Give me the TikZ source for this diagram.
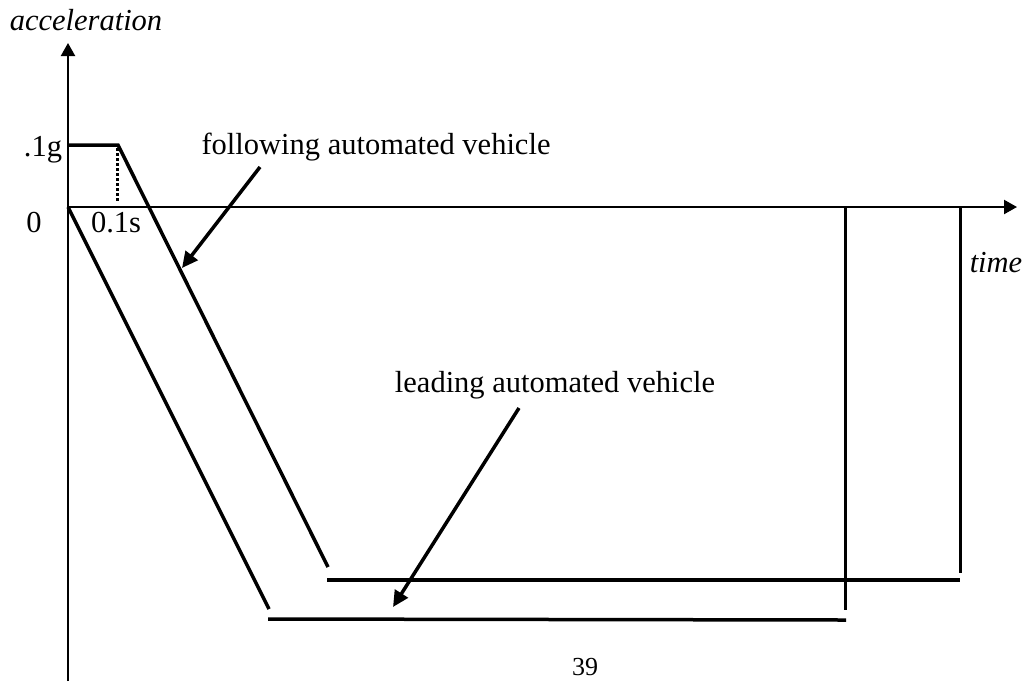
\documentclass[tikz,border=0pt]{standalone}
\usepackage{fontspec}
\setmainfont{Liberation Serif}
\usetikzlibrary{arrows.meta}
\begin{document}
\begin{tikzpicture}[x=1pt,y=-1pt,
  axis/.style={line width=2.2pt,-{Triangle[length=13pt,width=14pt]}},
  curve/.style={line width=3.5pt},
  endline/.style={line width=3pt},
  pointer/.style={line width=3.5pt,-{Triangle[length=16pt,width=15pt]}},
  lbl/.style={inner sep=0pt,anchor=base,font=\fontsize{30.5}{36}\selectfont},
  ilbl/.style={lbl,font=\fontsize{30.5}{36}\selectfont\itshape}]
\useasboundingbox (0,0) rectangle (1024,681);
% axes
\coordinate (O) at (68,207);
\coordinate (ybot) at (68,681);
\coordinate (ytop) at (68,43);
\coordinate (xend) at (1017,207);
\draw[axis] (ybot) -- (ytop);
\draw[axis,shorten <=-1pt] (O) -- (xend);
% following vehicle
\coordinate (f0) at (68,145);
\coordinate (f1) at (118,145);
\coordinate (f2) at (328,567);
\coordinate (fh0) at (327,580);
\coordinate (fh1) at (960,580);
\coordinate (fv0) at (960,207);
\coordinate (fv1) at (960,573);
\draw[curve] (f0) -- (f1) -- (f2);
\draw[curve] (fh0) -- (fh1);
\draw[endline] (fv0) -- (fv1);
\coordinate (d0) at (117,148);
\coordinate (d1) at (117,201);
\draw[line width=3pt,dash pattern=on 3pt off 2pt] (d0) -- (d1);
% leading vehicle
\coordinate (l2) at (269,609);
\coordinate (lh0) at (268,619);
\coordinate (lh1) at (846,620);
\coordinate (lv0) at (845,207);
\coordinate (lv1) at (845,610);
\draw[curve] (O) -- (l2);
\draw[curve] (lh0) -- (lh1);
\draw[endline] (lv0) -- (lv1);
% labels
\node[ilbl] (acc) at (86,30) {acceleration};
\node[ilbl] (time) at (996,272) {time};
\node[lbl] (g1) at (43,156) {.1g};
\node[lbl] (zero) at (34,232) {0};
\node[lbl] (t01) at (116,232) {0.1s};
\node[lbl] (fol) at (376,154) {following automated vehicle};
\node[lbl] (lea) at (555,392) {leading automated vehicle};
\node[inner sep=0pt,anchor=base,font=\fontsize{26}{30}\selectfont] (pg) at (585,675) {39};
% pointers
\coordinate (fa0) at (260,167);
\coordinate (fa1) at (182,268);
\coordinate (la0) at (519,408);
\coordinate (la1) at (393,607);
\draw[pointer] (fa0) -- (fa1);
\draw[pointer] (la0) -- (la1);
\end{tikzpicture}
\end{document}
